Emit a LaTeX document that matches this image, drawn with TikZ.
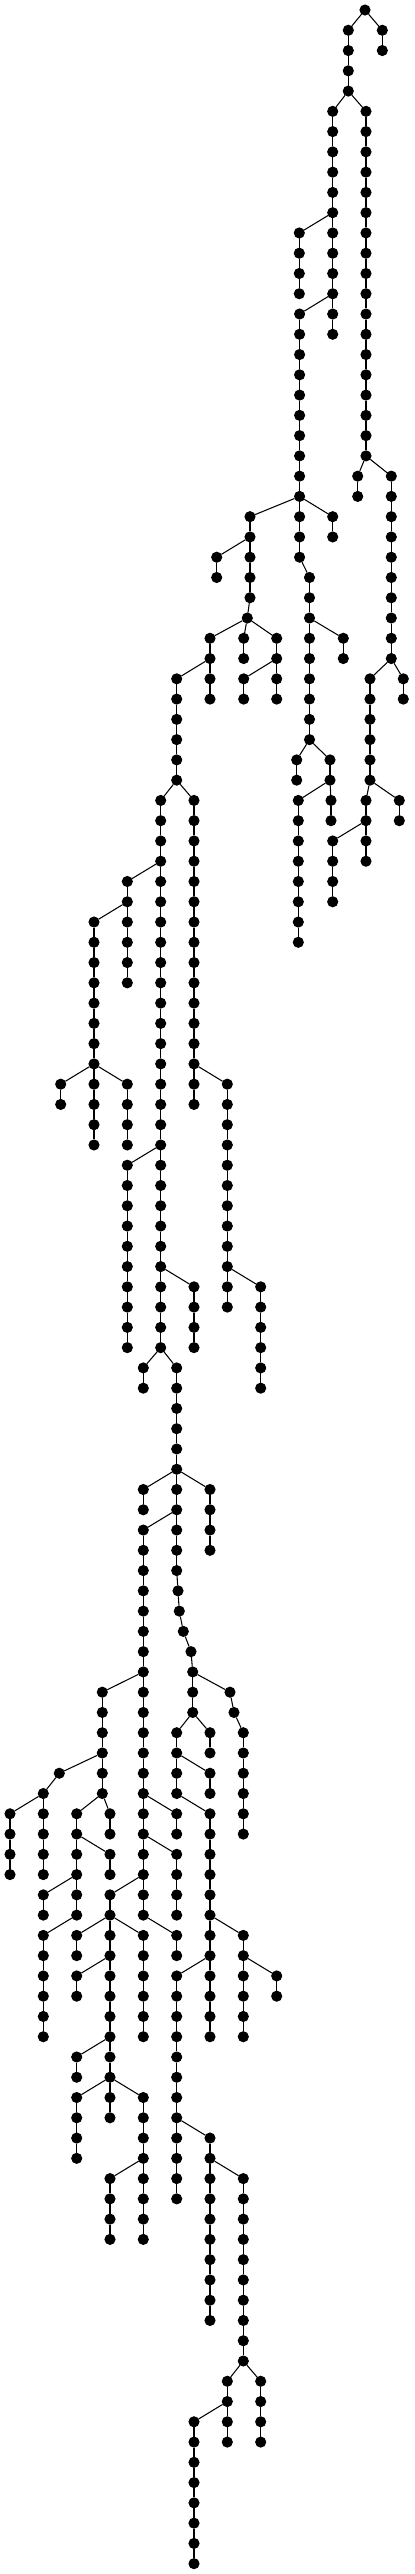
\documentclass[tikz,border=0pt]{standalone}
\begin{document}
\begin{tikzpicture}[
            x=0.02cm, y=-0.02cm,
            line width=0.6pt,
            vertex/.style={circle, draw, fill, inner sep=0pt, minimum size=0.2cm},
        ]
            \useasboundingbox (0,0) rectangle (414,2574);
            \node[vertex] (A-0) at (365,10) {};
            % chains: name / x / first level / last level / parent
            \foreach \ch/\cx/\ca/\cb/\cp in {
                B/382.3/1/2/A-0, C/348.3/1/4/A-0,
                D/332.7/5/16/C-4, E/366/5/22/C-4,
                F/299.3/11/14/D-10, G/299.6/15/27/D-14,
                H/309.5/28/36/G-27, J/296.7/37/38/H-36, K/330/37/38/H-36,
                L/298.3/39/46/K-38, M/331/39/40/K-38,
                N/250/25/29/G-24, O/247.3/30/30/N-29, P/332.7/25/26/G-24,
                Q/216.7/27/28/N-26,
                R/210/31/34/O-30, T/243.7/31/32/O-30, U/276.7/31/34/O-30,
                V/243.7/33/34/U-32,
                W/357.7/23/24/E-22, X/391.3/23/32/E-22,
                Y/370/33/38/X-32, Z/403.3/33/34/X-32,
                AA/366/39/42/Y-38, AB/399.3/39/40/Y-38, AC/332.7/41/44/AA-40,
                AD/343.3/31/32/H-30,
                AE/176.7/33/38/R-32,
                AF/160.7/39/66/AE-38, AG/194/39/54/AE-38,
                AH/227.3/53/64/AG-52, AI/260.7/63/68/AH-62,
                AJ/127.3/43/48/AF-42, AK/94/45/56/AJ-44,
                AL/60.7/53/54/AK-52, AM/127.3/53/56/AK-52,
                AN/127.3/57/66/AF-56, AO/194/63/66/AF-62,
                AP/143.3/67/68/AF-66, AQ/176.7/67/77/AF-66,
                AR/143.3/73/74/AQ-72, AS/210/73/76/AQ-72,
                AT/178/78/78/AQ-77, AU/179.3/79/79/AT-78,
                AV/183.3/80/80/AU-79, AW/191/81/81/AV-80,
                AX/192.7/82/84/AW-81,
                AY/143.3/75/94/AQ-74,
                AZ/230/83/83/AX-82, BA/234/84/84/AZ-83, BB/243.3/85/90/BA-84,
                BC/176.7/85/88/AX-84, BD/210/85/86/AX-84, BE/210/87/88/BC-86,
                BF/210/89/100/BC-88,
                BG/176.7/89/90/AY-88, BH/176.7/91/94/AY-90,
                BI/110/93/104/AY-92, BJ/176.7/95/96/AY-94,
                BK/102.3/83/88/AY-82, BL/59.3/87/87/BK-86,
                BM/43.3/88/92/BL-87, BN/10/89/92/BM-88,
                BO/76.7/89/94/BK-88, BP/110/89/90/BK-88,
                BQ/110/91/92/BO-90, BR/43.3/93/94/BO-92, BS/43.3/95/100/BO-94,
                BT/76.7/95/96/BI-94, BU/143.3/95/100/BI-94,
                BV/76.7/97/98/BI-96, BW/76.7/101/102/BI-100,
                BX/76.7/103/106/BI-102, BY/143.3/103/110/BI-102,
                BZ/110/107/110/BY-106,
                CA/243.3/95/100/BF-94, CB/276.7/97/98/CA-96,
                CC/176.7/97/108/BF-96, CD/210/105/114/CC-104,
                CE/243.3/107/116/CD-106,
                CF/227.3/117/120/CE-116, CG/260.7/117/120/CE-116,
                CH/194/119/126/CF-118%
            }{
                \foreach \l in {\ca,...,\cb}{
                    \node[vertex] (\ch-\l) at (\cx,{10+20.267*\l}) {};
                    \ifnum\l>\ca
                        \pgfmathtruncatemacro\k{\l-1}
                        \draw (\ch-\k) -- (\ch-\l);
                    \fi
                }
                \draw (\cp) -- (\ch-\ca);
            }
        \end{tikzpicture}
\end{document}
